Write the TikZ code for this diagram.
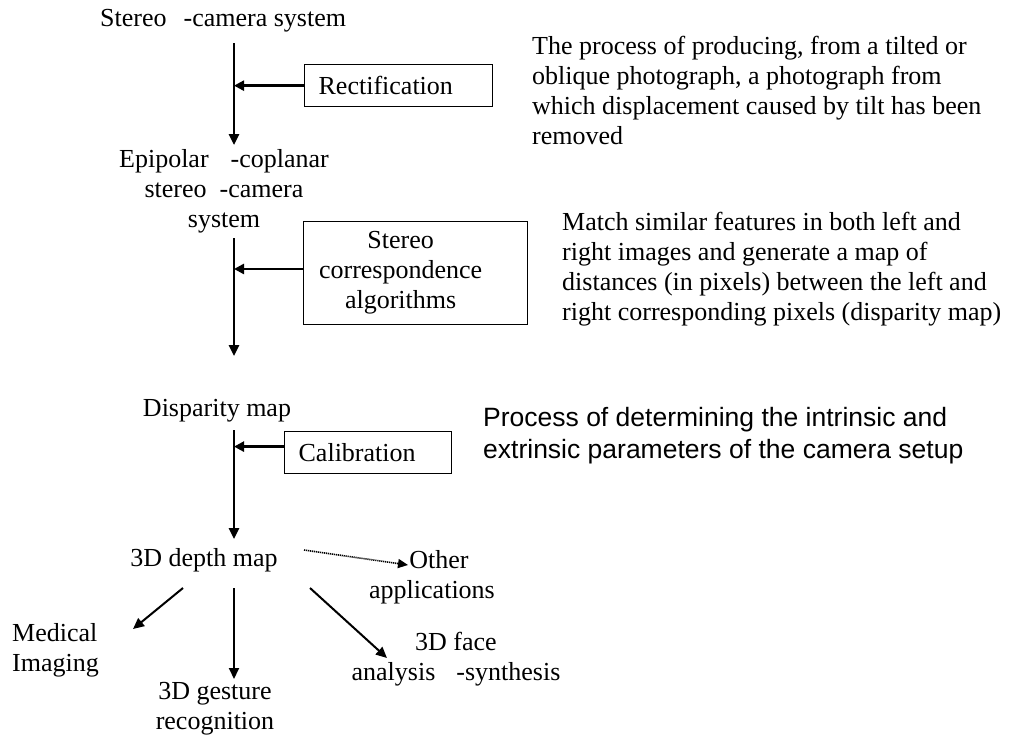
\documentclass[tikz,border=0pt]{standalone}
\usepackage{fontspec}
\setmainfont{Liberation Serif}
\newfontfamily\arialfont{Liberation Sans}
\usetikzlibrary{arrows.meta,calc}
\begin{document}
\begin{tikzpicture}[x=1pt,y=-1pt,
  every node/.style={inner sep=0pt, font=\fontsize{26}{30}\selectfont},
  lbl/.style={align=center},
  lftlbl/.style={align=left},
  desc/.style={align=left, anchor=west},
  sansdesc/.style={align=left, anchor=west, font=\arialfont\fontsize{26.5}{32}\selectfont},
  procbox/.style={draw, line width=1.3pt, anchor=north west},
  flow/.style={line width=2.6pt, -{Triangle[length=11pt,width=10pt]}},
  feed/.style={line width=2.4pt, -{Triangle[length=10pt,width=10pt]}},
  branch/.style={line width=2pt, -{Triangle[length=11pt,width=10pt]}},
  dotarrow/.style={line width=1.6pt, dash pattern=on 1.2pt off 0.8pt, -{Triangle[length=10pt,width=9pt]}}
]
\path[use as bounding box] (0,0) rectangle (1021,736);

% main chain labels
\node[anchor=base west] (s1) at (100,27) {Stereo\hspace{17pt}-camera system};
\node[lbl] (epi) at (224,191) {Epipolar\hspace{22pt}-coplanar\\stereo\hspace{13pt}-camera\\system};
\node[anchor=base] (disp) at (217,416) {Disparity map};
\node[anchor=base] (depth) at (204,566) {3D depth map};

% process boxes
\node[procbox, inner xsep=14pt, text width=160pt, minimum height=42pt, align=left] (rect) at (304,64) {Rectification};
\node[procbox, inner sep=0pt, minimum height=103pt] (corr) at (303,221)
  {\hspace*{14pt}\parbox{166pt}{\centering Stereo\\correspondence\\algorithms}\hspace*{44pt}};
\node[procbox, inner xsep=14pt, text width=139pt, minimum height=42pt, align=left] (cal) at (284,431) {Calibration};

% descriptions
\node[desc] (d1) at (532,90) {The process of producing, from a tilted or\\oblique photograph, a photograph from\\which displacement caused by tilt has been\\removed};
\node[desc] (d2) at (562,269) {Match similar features in both left and\\right images and generate a map of\\distances (in pixels) between the left and\\right corresponding pixels (disparity map)};
\node[sansdesc] (d3) at (483,436) {Process of determining the intrinsic and\\extrinsic parameters of the camera setup};

% applications
\node[lbl] (other) at (432,577) {\hspace*{14pt}Other\\applications};
\node[lftlbl, anchor=west] (med) at (12,650) {Medical\\Imaging};
\node[lbl] (gest) at (215,709) {3D gesture\\recognition};
\node[lbl] (face) at (456,659) {3D face\\analysis\hspace{21pt}-synthesis};

% vertical flow lines
\coordinate (v1a) at (234,43);  \coordinate (v1b) at (234,145);
\coordinate (v2a) at (234,238); \coordinate (v2b) at (234,356);
\coordinate (v3a) at (234,430); \coordinate (v3b) at (234,539);
\draw[flow] (v1a) -- (v1b);
\draw[flow] (v2a) -- (v2b);
\draw[flow] (v3a) -- (v3b);

% feeds from boxes
\draw[feed] (rect.west) -- (rect.west -| v1a);
\draw[feed] ($(corr.north west)!0.46!(corr.south west)$) coordinate (c2) -- (c2 -| v2a);
\draw[feed] ($(cal.north west)!0.36!(cal.south west)$) coordinate (c3) -- (c3 -| v3a);

% branches from depth map
\coordinate (bo) at (304,550); \coordinate (boe) at (408,565);
\coordinate (bl) at (183,588); \coordinate (ble) at (133,629);
\coordinate (bm) at (234,588); \coordinate (bme) at (234,679);
\coordinate (br) at (310,588); \coordinate (bre) at (387,658);
\draw[dotarrow] (bo) -- (boe);
\draw[branch] (bl) -- (ble);
\draw[branch] (bm) -- (bme);
\draw[branch] (br) -- (bre);
\end{tikzpicture}
\end{document}
